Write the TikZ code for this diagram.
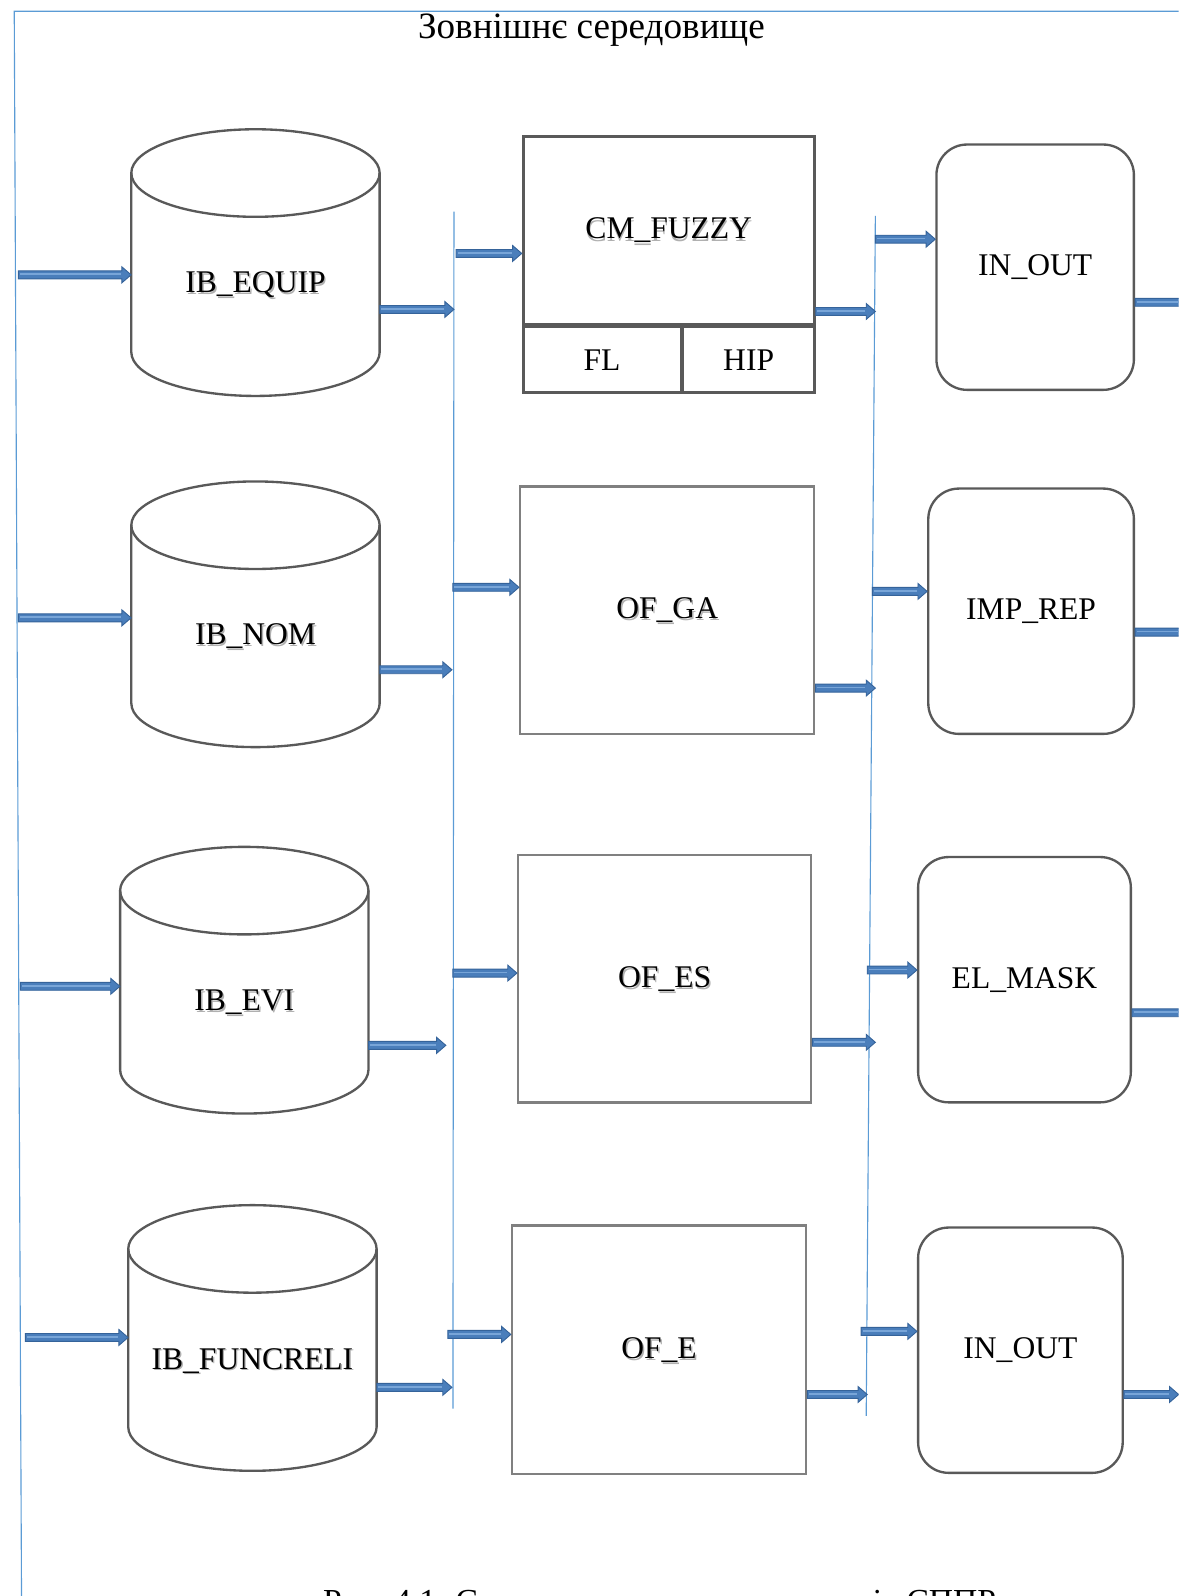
\documentclass[tikz,border=0pt]{standalone}
\usepackage{fontspec}
\setmainfont{Liberation Serif}
\usetikzlibrary{calc}

\definecolor{frame}{HTML}{595959}
\definecolor{lightframe}{HTML}{808080}
\definecolor{guide}{HTML}{5B9BD5}
\definecolor{arrowfill}{HTML}{4A7EBB}
\definecolor{arrowedge}{HTML}{35639A}
\definecolor{arrowlight}{HTML}{78A5D8}
\definecolor{shadowgray}{HTML}{B0B0B0}

\tikzset{
  lbl/.style={font=\fontsize{31}{36}\selectfont, inner sep=0pt},
  lblshadow/.style={lbl, text=shadowgray},
  headline/.style={font=\fontsize{36.5}{42}\selectfont, inner sep=0pt},
  cyl/.style={draw=frame, line width=2.3pt},
  module/.style={draw=frame, line width=2.8pt, inner sep=0pt},
  opbox/.style={draw=lightframe, line width=2.3pt, inner sep=0pt},
  iobox/.style={draw=frame, line width=2.3pt, rounded corners=30pt, inner sep=0pt},
  guideline/.style={draw=guide, line width=1.1pt},
  flowbody/.style={fill=arrowfill, draw=arrowedge, line width=0.9pt, line join=miter},
  flowshine/.style={draw=arrowlight, line width=1.6pt},
}

% database cylinder: name, centre x, top ellipse y, bottom ellipse y, label y, label
\newcommand\dbcyl[6]{%
  \draw[cyl] (#2-122,#3) -- (#2-122,#4)
    arc[start angle=180, end angle=0, x radius=122, y radius=43] -- (#2+122,#3);
  \draw[cyl] (#2,#3) ellipse[x radius=122, y radius=43];
  \node[inner sep=0pt, minimum width=244pt, minimum height=(#4-#3+86)*1pt] (#1) at (#2,{(#3+#4)/2}) {};
  \node[lblshadow] (#1-shadow) at (#2+1.4,#5+1.6) {#6};
  \node[lbl] (#1-label) at (#2,#5) {#6};
}

% block arrow between two points on one horizontal line
\newcommand\flowarrow[2]{%
  \draw[flowbody] ($(#1)+(0,-3.9)$) -- ($(#2)+(-9,-3.9)$) -- ($(#2)+(-9,-7.8)$)
    -- (#2) -- ($(#2)+(-9,7.8)$) -- ($(#2)+(-9,3.9)$) -- ($(#1)+(0,3.9)$) -- cycle;
  \draw[flowshine] ($(#1)+(1.5,-0.6)$) -- ($(#2)+(-10,-0.6)$);
}

\begin{document}
\begin{tikzpicture}[yscale=-1, x=1pt, y=1pt]
\useasboundingbox (0,0) rectangle (1158,1568);
\clip (0,0) rectangle (1158,1568);

% environment frame
\coordinate (tl) at (14,11);
\coordinate (tr) at (1170,11);
\coordinate (bl) at (21.2,1580);
\draw[guideline] (tr) -- (tl) -- (bl);
\node[headline, anchor=base] (env) at (581,38) {Зовнішнє середовище};

% bus lines
\coordinate (la1) at (446,208);
\coordinate (la2) at (445,1384);
\coordinate (lb1) at (860,212);
\coordinate (lb2) at (851,1391);
\draw[guideline] (la1) -- (la2);
\draw[guideline] (lb1) -- (lb2);

% information bases
\dbcyl{eq}{251}{170}{346}{280}{IB\_EQUIP}
\dbcyl{nom}{251}{516}{691}{625}{IB\_NOM}
\dbcyl{evi}{240}{875}{1051}{985}{IB\_EVI}
\dbcyl{fun}{248}{1227}{1402}{1337}{IB\_FUNCRELI}

% processing modules
\node[lblshadow] (cm-shadow) at (657.4,228.6) {CM\_FUZZY};
\node[module, minimum width=286pt, minimum height=185pt, font=\fontsize{31}{36}\selectfont] (cm) at (657,226.5) {CM\_FUZZY};
\node[module, minimum width=155pt, minimum height=65pt, font=\fontsize{31}{36}\selectfont] (fl) at (591.5,353.5) {FL};
\node[module, minimum width=129pt, minimum height=65pt, font=\fontsize{31}{36}\selectfont] (hip) at (735.5,353.5) {HIP};

\node[lblshadow] (ga-shadow) at (656.9,601.6) {OF\_GA};
\node[opbox, minimum width=289pt, minimum height=243pt, font=\fontsize{31}{36}\selectfont] (ga) at (655.5,599.5) {OF\_GA};
\node[lblshadow] (es-shadow) at (654.4,963.6) {OF\_ES};
\node[opbox, minimum width=288pt, minimum height=243pt, font=\fontsize{31}{36}\selectfont] (es) at (653,961.5) {OF\_ES};
\node[lblshadow] (e-shadow) at (648.9,1328.1) {OF\_E};
\node[opbox, minimum width=289pt, minimum height=244pt, font=\fontsize{31}{36}\selectfont] (e) at (647.5,1326) {OF\_E};

% interface blocks
\node[iobox, minimum width=194pt, minimum height=241pt, font=\fontsize{31}{36}\selectfont] (io1) at (1017,262.5) {IN\_OUT};
\node[iobox, minimum width=202pt, minimum height=241pt, font=\fontsize{31}{36}\selectfont] (imp) at (1013,600.5) {IMP\_REP};
\node[iobox, minimum width=209pt, minimum height=241pt, font=\fontsize{31}{36}\selectfont] (el) at (1006.5,962.5) {EL\_MASK};
\node[iobox, minimum width=201pt, minimum height=241pt, font=\fontsize{31}{36}\selectfont] (io2) at (1002.5,1326.5) {IN\_OUT};

% arrow ends on the frame and bus lines
\coordinate (in1) at (18,270);    \coordinate (in2) at (18,607);
\coordinate (in3) at (20,969);    \coordinate (in4) at (25,1314);
\coordinate (ba1) at (446,304);   \coordinate (ba2) at (444,658);
\coordinate (ba3) at (438,1027);  \coordinate (ba4) at (444,1363);
\coordinate (oa1) at (448,249);   \coordinate (oa2) at (445,577);
\coordinate (oa3) at (445,956);   \coordinate (oa4) at (440,1311);
\coordinate (bb1) at (860,306);   \coordinate (bb2) at (860,676);
\coordinate (bb3) at (860,1024);  \coordinate (bb4) at (852,1370);
\coordinate (ob1) at (860,235);   \coordinate (ob2) at (857,581);
\coordinate (ob3) at (852,953);   \coordinate (ob4) at (846,1308);
\coordinate (out1) at (1168,297); \coordinate (out2) at (1168,621);
\coordinate (out3) at (1168,995); \coordinate (out4) at (1158,1370);

% environment -> information bases
\flowarrow{in1}{in1 -| eq.west}
\flowarrow{in2}{in2 -| nom.west}
\flowarrow{in3}{in3 -| evi.west}
\flowarrow{in4}{in4 -| fun.west}

% information bases -> bus A
\flowarrow{ba1 -| eq.east}{ba1}
\flowarrow{ba2 -| nom.east}{ba2}
\flowarrow{ba3 -| evi.east}{ba3}
\flowarrow{ba4 -| fun.east}{ba4}

% bus A -> modules
\flowarrow{oa1}{oa1 -| cm.west}
\flowarrow{oa2}{oa2 -| ga.west}
\flowarrow{oa3}{oa3 -| es.west}
\flowarrow{oa4}{oa4 -| e.west}

% modules -> bus B
\flowarrow{bb1 -| cm.east}{bb1}
\flowarrow{bb2 -| ga.east}{bb2}
\flowarrow{bb3 -| es.east}{bb3}
\flowarrow{bb4 -| e.east}{bb4}

% bus B -> interface blocks
\flowarrow{ob1}{ob1 -| io1.west}
\flowarrow{ob2}{ob2 -| imp.west}
\flowarrow{ob3}{ob3 -| el.west}
\flowarrow{ob4}{ob4 -| io2.west}

% interface blocks -> environment
\flowarrow{out1 -| io1.east}{out1}
\flowarrow{out2 -| imp.east}{out2}
\flowarrow{out3 -| el.east}{out3}
\flowarrow{out4 -| io2.east}{out4}

% figure caption, running past the lower edge
\node[font=\fontsize{33}{38}\selectfont, inner sep=0pt, anchor=base] (caption) at (648,1584) {Рис. 4.1. Структурна схема компонентів СППР};
\end{tikzpicture}
\end{document}
